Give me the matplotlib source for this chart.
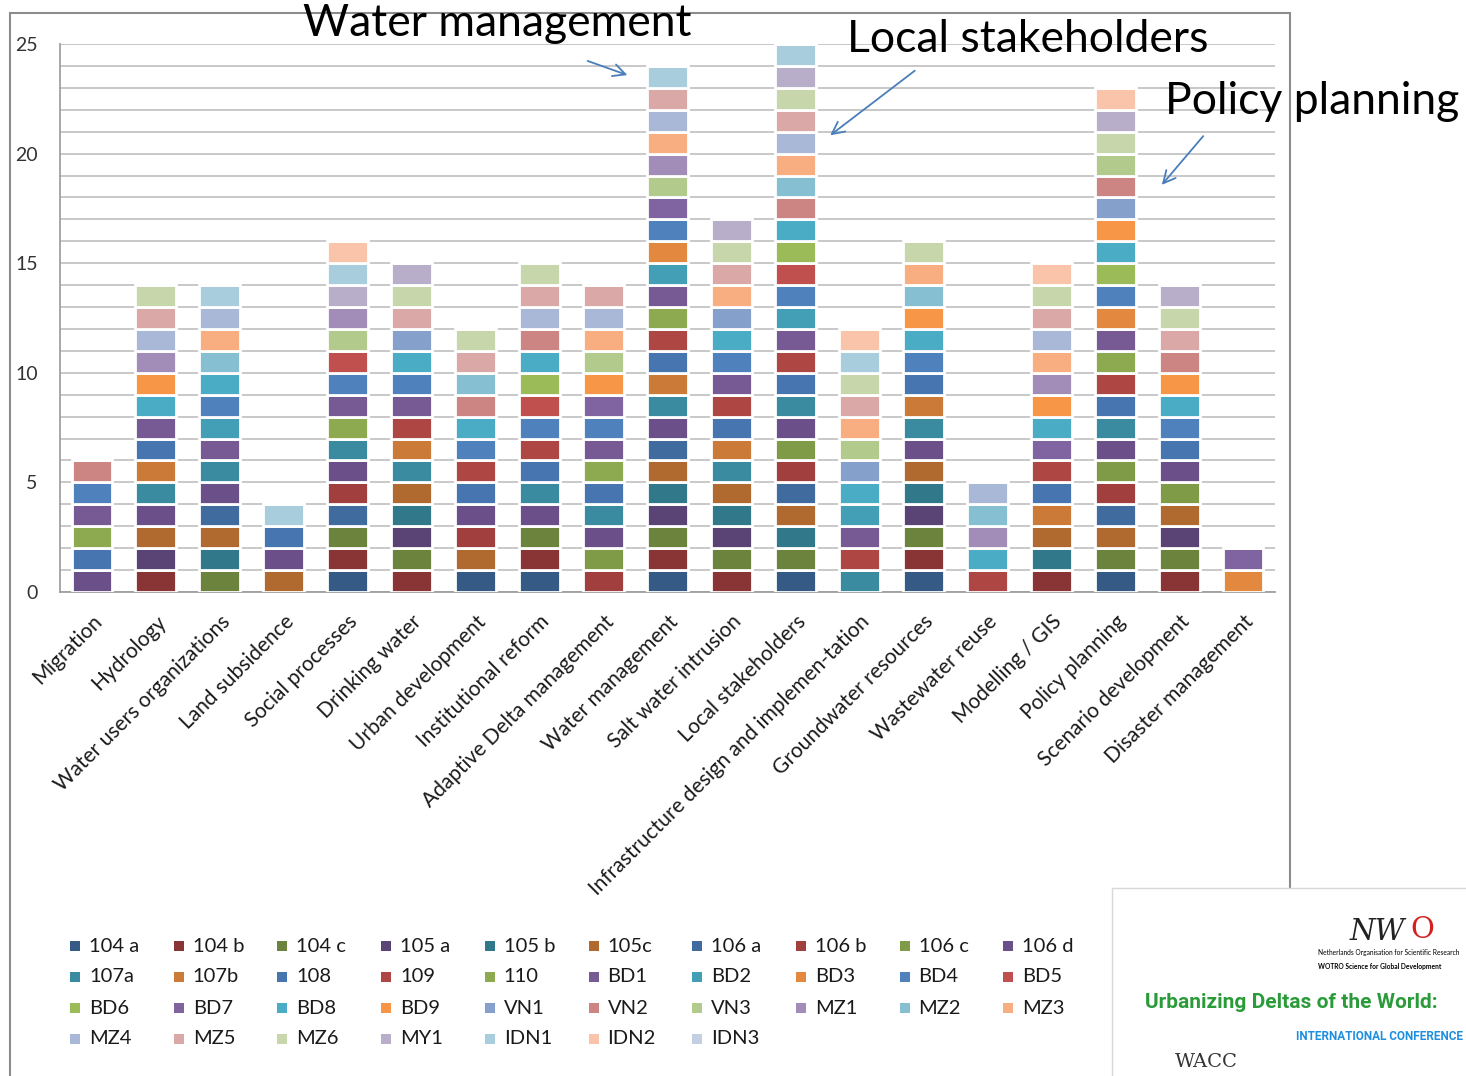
import numpy as np
import matplotlib.pyplot as plt
from matplotlib.patches import Rectangle

plt.rcParams['font.family'] = ['Lato', 'DejaVu Sans']

W, H = 1466, 1076

categories = ["Migration", "Hydrology", "Water users organizations", "Land subsidence",
              "Social processes", "Drinking water", "Urban development", "Institutional reform",
              "Adaptive Delta management", "Water management", "Salt water intrusion",
              "Local stakeholders", "Infrastructure design and implemen-tation",
              "Groundwater resources", "Wastewater reuse", "Modelling / GIS", "Policy planning",
              "Scenario development", "Disaster management"]

series = ["104 a", "104 b", "104 c", "105 a", "105 b", "105c", "106 a", "106 b", "106 c", "106 d",
          "107a", "107b", "108", "109", "110", "BD1", "BD2", "BD3", "BD4", "BD5",
          "BD6", "BD7", "BD8", "BD9", "VN1", "VN2", "VN3", "MZ1", "MZ2", "MZ3",
          "MZ4", "MZ5", "MZ6", "MY1", "IDN1", "IDN2", "IDN3"]

# series (project) indices present in each topic bar
members = [
    [9, 12, 14, 15, 18, 25],
    [1, 3, 5, 9, 10, 11, 12, 15, 22, 23, 27, 30, 31, 32],
    [2, 4, 5, 6, 9, 10, 15, 16, 18, 22, 28, 29, 30, 34],
    [5, 9, 12, 34],
    [0, 1, 2, 6, 7, 9, 10, 14, 15, 18, 19, 26, 27, 33, 34, 35],
    [1, 2, 3, 4, 5, 10, 11, 13, 15, 18, 22, 24, 31, 32, 33],
    [0, 5, 7, 9, 12, 13, 18, 22, 25, 28, 31, 32],
    [0, 1, 2, 9, 10, 12, 13, 18, 19, 20, 22, 25, 30, 31, 32],
    [7, 8, 9, 10, 12, 14, 15, 18, 21, 23, 26, 29, 30, 31],
    [0, 1, 2, 3, 4, 5, 6, 9, 10, 11, 12, 13, 14, 15, 16, 17, 18, 21, 26, 27, 29, 30, 31, 34],
    [1, 2, 3, 4, 5, 10, 11, 12, 13, 15, 18, 22, 24, 29, 31, 32, 33],
    [0, 2, 4, 5, 6, 7, 8, 9, 10, 12, 13, 15, 16, 18, 19, 20, 22, 25, 28, 29, 30, 31, 32, 33, 34],
    [10, 13, 15, 16, 22, 24, 26, 29, 31, 32, 34, 35],
    [0, 1, 2, 3, 4, 5, 9, 10, 11, 12, 18, 22, 23, 28, 29, 32],
    [13, 22, 27, 28, 30],
    [1, 4, 5, 11, 12, 13, 21, 22, 23, 27, 29, 30, 31, 32, 35],
    [0, 2, 5, 6, 7, 8, 9, 10, 12, 13, 14, 15, 17, 18, 20, 22, 23, 24, 25, 26, 32, 33, 35],
    [1, 2, 3, 5, 8, 9, 12, 18, 22, 23, 25, 31, 32, 33],
    [17, 21],
]

colors = ['#355A86', '#8A3535', '#6B833C', '#5A4475', '#31788A', '#B06A30',
          '#3F6B9F', '#A03F3E', '#7F9B47', '#6A4F88', '#3A8AA0', '#CB7A37',
          '#4775AF', '#AE4744', '#8DAA50', '#775A94', '#439FB6', '#E2893F',
          '#4F81BD', '#C0504D', '#9BBB59', '#8064A2', '#4BACC6', '#F79646',
          '#84A0CB', '#CD8583', '#B2CA8C', '#A18DB8', '#86BFD2', '#F8AE80',
          '#A9B8D6', '#D9A8A7', '#C7D6AB', '#B8AECA', '#A8CDDC', '#F9C4A9',
          '#C5CFE3']

values = np.zeros((len(series), len(categories)))
for c, m in enumerate(members):
    values[m, c] = 1


def fx(px):
    return px / W


def fy(py):
    return 1 - py / H


fig = plt.figure(figsize=(W / 100, H / 100), dpi=100)
ax = fig.add_axes([fx(60), fy(592), fx(1275) - fx(60), fy(44) - fy(592)])

x = np.arange(len(categories))
bottom = np.zeros(len(categories))
for s in range(len(series)):
    ax.bar(x, values[s], bottom=bottom, width=0.64, color=colors[s],
           edgecolor='white', linewidth=2, label=series[s], zorder=3)
    bottom += values[s]

ax.set_xlim(-0.5, len(categories) - 0.5)
ax.set_ylim(0, 25)
ax.set_yticks(range(0, 26, 5))
ax.set_yticks(range(0, 26), minor=True)
ax.grid(True, which='both', axis='y', color='#c4c4c4', lw=1.3, zorder=0)
ax.tick_params(axis='y', which='both', length=0, pad=16, labelsize=14, labelcolor='#333333')
ax.tick_params(axis='x', length=0, pad=14)
ax.set_xticks(x)
ax.set_xticklabels(categories, rotation=45, ha='right', rotation_mode='anchor',
                   fontsize=15, color='#1a1a1a')
for side in ['top', 'right']:
    ax.spines[side].set_visible(False)
for side in ['left', 'bottom']:
    ax.spines[side].set_color('#a0a0a0')
    ax.spines[side].set_linewidth(1.3)

# legend laid out like the original, row by row
for i, name in enumerate(series):
    r, c = divmod(i, 10)
    lx = 70 + 103.7 * c
    ly = 946 + 31 * r
    fig.patches.append(Rectangle((fx(lx), fy(ly + 5)), 10 / W, 10 / H,
                                 transform=fig.transFigure, facecolor=colors[i],
                                 edgecolor='none'))
    fig.text(fx(lx + 19), fy(ly), name, va='center', ha='left', fontsize=14.5, color='#1a1a1a')

# outer chart frame
fig.patches.append(Rectangle((fx(10), fy(1090)), 1280 / W, 1077 / H, transform=fig.transFigure,
                             fill=False, edgecolor='#8c8c8c', lw=1.5, zorder=1))

# callouts
fig.text(fx(303), fy(24), "Water management", fontsize=32, va='center', ha='left')
fig.text(fx(847), fy(39), "Local stakeholders", fontsize=32, va='center', ha='left')
fig.text(fx(1165), fy(102), "Policy planning", fontsize=32, va='center', ha='left')
arrow = dict(arrowstyle='->', color='#4A7EBB', lw=1.3, mutation_scale=22)
for (x0, y0), (x1, y1) in [((585, 60), (630, 76)), ((917, 69), (828, 137)), ((1205, 134), (1160, 187))]:
    fig.add_artist(plt.Annotation('', xy=(fx(x1), fy(y1)), xycoords='figure fraction',
                                  xytext=(fx(x0), fy(y0)), textcoords='figure fraction',
                                  arrowprops=arrow))

# conference logo box in the corner
fig.patches.append(Rectangle((fx(1112), fy(1090)), 360 / W, 202 / H, transform=fig.transFigure,
                             facecolor='white', edgecolor='#d8d8d8', lw=1, zorder=5))
fig.text(fx(1350), fy(932), "NW", fontsize=21, family='DejaVu Serif', style='italic',
         color='#222222', va='center', zorder=6)
fig.text(fx(1410), fy(930), "O", fontsize=21, family='DejaVu Serif', color='#d42020',
         va='center', zorder=6)
fig.text(fx(1318), fy(953), "Netherlands Organisation for Scientific Research", fontsize=4.8,
         va='center', zorder=6)
fig.text(fx(1318), fy(966), "WOTRO Science for Global Development", fontsize=4.8,
         weight='bold', va='center', zorder=6)
fig.text(fx(1145), fy(1002), "Urbanizing Deltas of the World:", fontsize=15, weight='bold',
         family='Roboto', color='#2b9b3a', va='center', zorder=6)
fig.text(fx(1296), fy(1036), "INTERNATIONAL CONFERENCE", fontsize=8.5, weight='bold',
         family='Roboto', color='#1e8fe0', va='center', zorder=6)
fig.text(fx(1175), fy(1062), "WACC", fontsize=14, family='DejaVu Serif', color='#333333',
         va='center', zorder=6)

fig.savefig('out.png', dpi=100)
